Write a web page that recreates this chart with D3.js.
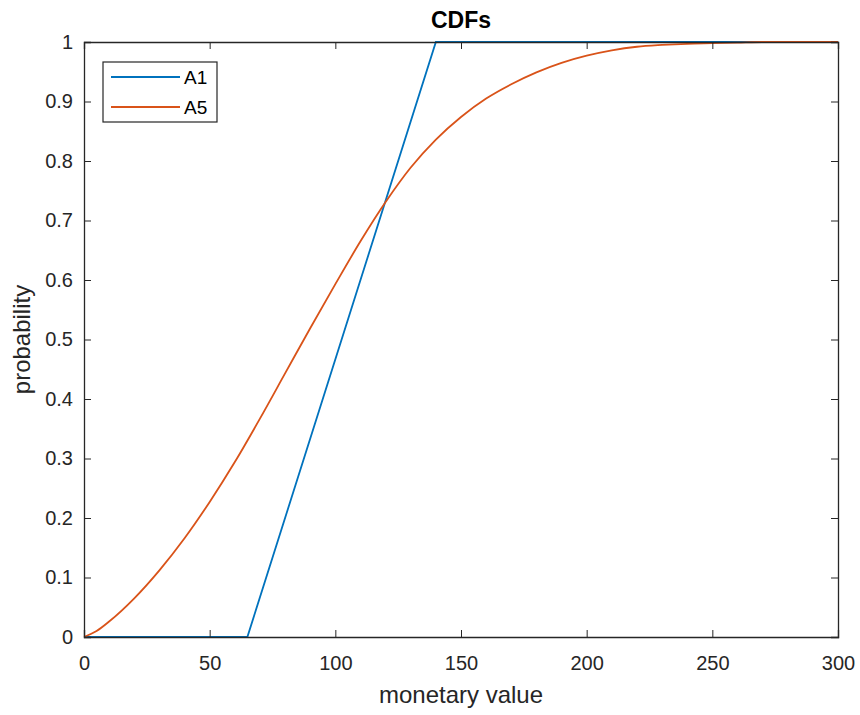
<!DOCTYPE html>
<html>
<head>
<meta charset="utf-8">
<script src="https://cdn.jsdelivr.net/npm/d3@7"></script>
<style>
body { margin: 0; background: #fff; }
text { font-family: "Liberation Sans", Arial, sans-serif; fill: #262626; }
</style>
</head>
<body>
<div id="chart"></div>
<script>
// values
var xTicks = [0, 50, 100, 150, 200, 250, 300];
var yTicks = [0, 0.1, 0.2, 0.3, 0.4, 0.5, 0.6, 0.7, 0.8, 0.9, 1];
var a1X = [0, 65, 140, 300];
var a1Y = [0, 0, 1, 1];
var a5X = [0, 5, 10, 20, 30, 40, 50, 60, 70, 80, 90, 100, 110, 120, 130, 140, 150,
           160, 170, 180, 190, 200, 210, 220, 230, 240, 250, 260, 270, 280, 290, 300];
var a5Y = [0, 0.01, 0.026, 0.065, 0.112, 0.166, 0.227, 0.294, 0.367, 0.443, 0.519, 0.593,
           0.665, 0.731, 0.789, 0.836, 0.874, 0.905, 0.929, 0.949, 0.965, 0.977,
           0.986, 0.992, 0.995, 0.997, 0.998, 0.999, 1, 1, 1, 1];
var names = ["A1", "A5"];
var colors = ["#0072BD", "#D95319"];

var W = 860, H = 715;
var mLeft = 84, mRight = 838, mTop = 42, mBottom = 637;

var svg = d3.select("#chart").append("svg")
    .attr("width", W).attr("height", H);

var x = d3.scaleLinear().domain([0, 300]).range([mLeft, mRight]);
var y = d3.scaleLinear().domain([0, 1]).range([mBottom, mTop]);

var axisColor = "#262626";

var line = d3.line().x(function (d) { return x(d[0]); }).y(function (d) { return y(d[1]); });

var series = [
    d3.zip(a1X, a1Y),
    d3.zip(a5X, a5Y)
];

// curves first, then the box on top of them
svg.append("g").selectAll("path")
    .data(series)
    .enter().append("path")
    .attr("d", function (d, i) { return i === 1 ? line.curve(d3.curveMonotoneX)(d) : line.curve(d3.curveLinear)(d); })
    .attr("fill", "none")
    .attr("stroke", function (d, i) { return colors[i]; })
    .attr("stroke-width", 1.8);

// x axis (ticks pointing inward)
svg.append("g")
    .attr("transform", "translate(0," + mBottom + ")")
    .call(d3.axisBottom(x).tickValues(xTicks).tickSize(-7).tickPadding(19).tickFormat(d3.format("d")));
svg.append("g")
    .attr("transform", "translate(" + mLeft + ",0)")
    .call(d3.axisLeft(y).tickValues(yTicks).tickSize(-7).tickPadding(11)
        .tickFormat(function (d) { return d === 0 || d === 1 ? d : d3.format(".1f")(d); }));
// top and right ticks
svg.append("g")
    .attr("transform", "translate(0," + mTop + ")")
    .call(d3.axisTop(x).tickValues(xTicks).tickSize(-7).tickFormat(""));
svg.append("g")
    .attr("transform", "translate(" + mRight + ",0)")
    .call(d3.axisRight(y).tickValues(yTicks).tickSize(-7).tickFormat(""));

svg.selectAll(".domain").attr("stroke", axisColor).attr("stroke-width", 1.3);
svg.selectAll(".tick line").attr("stroke", axisColor).attr("stroke-width", 1);
svg.selectAll(".tick text").attr("fill", axisColor).style("font-size", "20px")
    .style("font-family", "'Liberation Sans', Arial, sans-serif");

// title and labels
svg.append("text")
    .attr("x", (mLeft + mRight) / 2).attr("y", 28)
    .attr("text-anchor", "middle")
    .style("font-size", "23px").style("font-weight", "bold")
    .style("fill", "#000")
    .text("CDFs");

svg.append("text")
    .attr("x", (mLeft + mRight) / 2).attr("y", 703)
    .attr("text-anchor", "middle")
    .style("font-size", "24px")
    .text("monetary value");

svg.append("text")
    .attr("transform", "translate(30," + ((mTop + mBottom) / 2) + ") rotate(-90)")
    .attr("text-anchor", "middle")
    .style("font-size", "24px")
    .text("probability");

// legend
var lg = svg.append("g");
lg.append("rect")
    .attr("x", 103).attr("y", 62).attr("width", 114).attr("height", 60)
    .attr("fill", "#fff").attr("stroke", axisColor).attr("stroke-width", 1.2);
names.forEach(function (n, i) {
    var yy = 77 + i * 30;
    lg.append("line")
        .attr("x1", 111).attr("x2", 180).attr("y1", yy).attr("y2", yy)
        .attr("stroke", colors[i]).attr("stroke-width", 1.8);
    lg.append("text")
        .attr("x", 184).attr("y", yy + 7)
        .style("font-size", "19px").style("fill", "#000")
        .text(n);
});
</script>
</body>
</html>
